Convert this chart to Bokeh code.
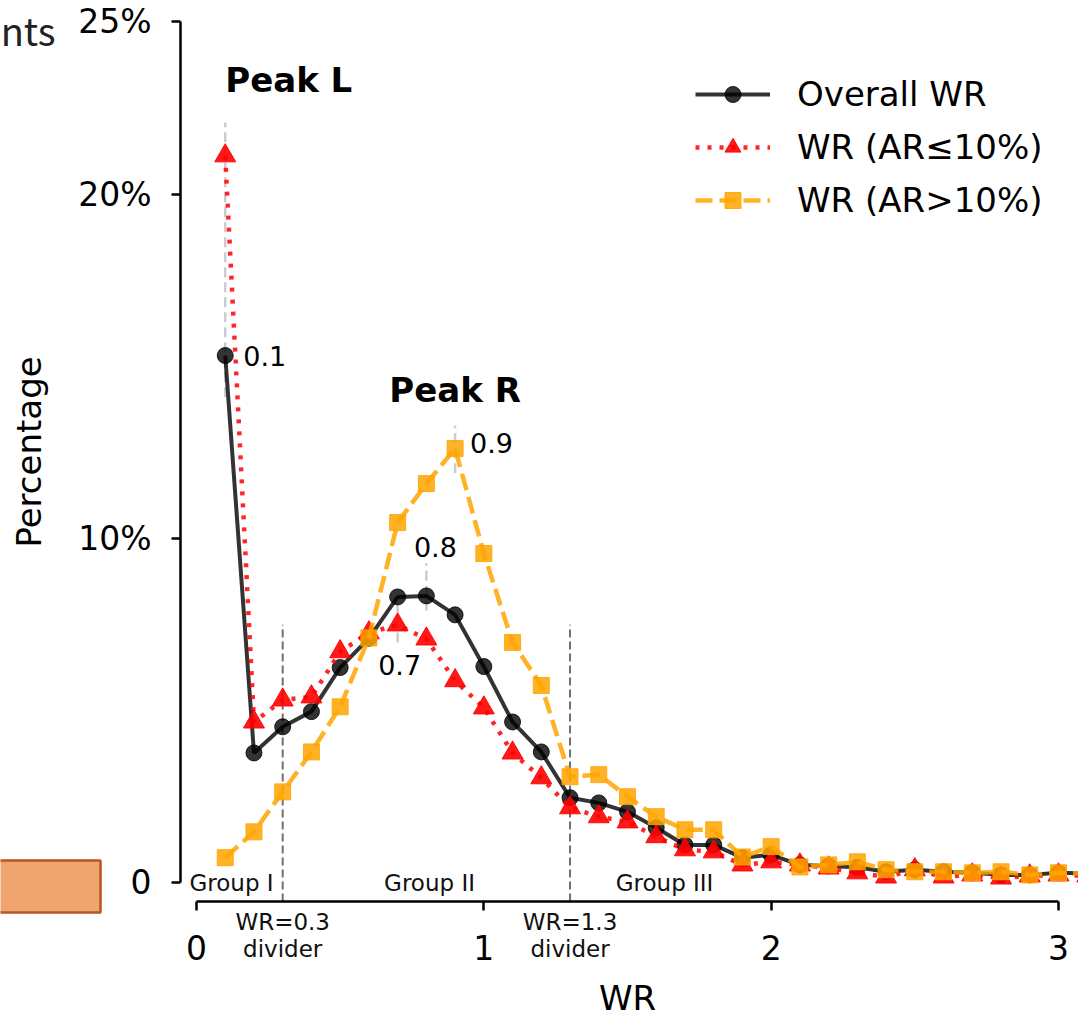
from bokeh.plotting import figure
from bokeh.models import Range1d, FixedTicker, Label, Legend, LegendItem, BoxAnnotation
from bokeh.embed import file_html
from bokeh.resources import INLINE

# ---------------- data ----------------
wr = [0.1, 0.2, 0.3, 0.4, 0.5, 0.6, 0.7, 0.8, 0.9, 1.0,
      1.1, 1.2, 1.3, 1.4, 1.5, 1.6, 1.7, 1.8, 1.9, 2.0,
      2.1, 2.2, 2.3, 2.4, 2.5, 2.6, 2.7, 2.8, 2.9, 3.0, 3.1]
overall = [15.31, 3.77, 4.53, 4.97, 6.25, 7.10, 8.30, 8.33, 7.78, 6.28,
           4.67, 3.80, 2.47, 2.32, 2.06, 1.60, 1.10, 1.10, 0.73, 0.81,
           0.52, 0.49, 0.45, 0.32, 0.38, 0.32, 0.29, 0.23, 0.23, 0.29, 0.27]
low_ar = [21.11, 4.67, 5.31, 5.40, 6.71, 7.26, 7.49, 7.08, 5.87, 5.08,
          3.77, 3.05, 2.18, 1.92, 1.77, 1.34, 0.96, 0.90, 0.52, 0.61,
          0.52, 0.43, 0.29, 0.17, 0.38, 0.17, 0.23, 0.14, 0.20, 0.23, 0.20]
high_ar = [0.73, 1.48, 2.64, 3.80, 5.11, 7.11, 10.46, 11.59, 12.61, 9.56,
           6.98, 5.73, 3.08, 3.14, 2.50, 1.92, 1.54, 1.54, 0.75, 1.05,
           0.46, 0.52, 0.61, 0.38, 0.32, 0.32, 0.29, 0.32, 0.23, 0.29, 0.27]
series_names = ["Overall WR", "WR (AR\u226410%)", "WR (AR>10%)"]
x_ticks = [0, 1, 2, 3]
y_ticks = [0, 10, 20, 25]
y_tick_labels = {0: "0", 10: "10%", 20: "20%", 25: "25%"}
dividers = [0.3, 1.3]
group_names = ["Group I", "Group II", "Group III"]
group_x = [0.122, 0.811, 1.629]
peak_x = [0.1, 0.7, 0.8, 0.9]
peak_y0 = [14.1, 6.98, 7.90, 11.89]
peak_y1 = [22.07, 8.06, 9.28, 13.28]

FONT = "DejaVu Sans"

# px scales: x 287.33 px/unit (0 at px 196), y 34.44 px/unit (0 at px 882.3)
XS = 287.33
YS = 34.44
W, H = 1078, 1018
x_start = -196 / XS
x_end = (W - 196) / XS
y_start = -(H - 882.3) / YS
y_end = 882.3 / YS
x_axis_at = -(901 - 882.3) / YS
y_axis_at = -16 / XS

p = figure(width=W, height=H,
           x_range=Range1d(x_start, x_end), y_range=Range1d(y_start, y_end),
           output_backend="svg", toolbar_location=None, min_border=0)
p.outline_line_color = None
p.grid.visible = False
p.background_fill_color = "white"
p.border_fill_color = "white"

for ax in (p.xaxis[0], p.yaxis[0]):
    ax.axis_line_width = 2.5
    ax.major_tick_line_width = 2.5
    ax.major_tick_in = 0
    ax.major_tick_out = 9
    ax.minor_tick_line_color = None
    ax.major_label_text_font = FONT
    ax.major_label_text_font_size = "33px"
    ax.major_label_text_color = "black"
    ax.axis_label_text_font = FONT
    ax.axis_label_text_font_size = "34px"
    ax.axis_label_text_font_style = "normal"
    ax.axis_label_text_color = "black"

p.xaxis.fixed_location = x_axis_at
p.xaxis.bounds = (0, 3)
p.xaxis.ticker = FixedTicker(ticks=x_ticks)
p.xaxis.axis_label = "WR"
p.xaxis.major_label_standoff = 24
p.xaxis.axis_label_standoff = 15

p.yaxis.fixed_location = y_axis_at
p.yaxis.bounds = (0, 25)
p.yaxis.ticker = FixedTicker(ticks=y_ticks)
p.yaxis.major_label_overrides = y_tick_labels
p.yaxis.axis_label = "Percentage"
p.yaxis.major_label_standoff = 20
p.yaxis.axis_label_standoff = 26

# guide lines
p.segment(x0=dividers, y0=[x_axis_at] * len(dividers), x1=dividers, y1=[7.49] * len(dividers),
          line_color="#707070", line_width=2, line_dash="8 4")
p.segment(x0=peak_x, y0=peak_y0, x1=peak_x, y1=peak_y1,
          line_color="#cccccc", line_width=2.5, line_dash="10 5")

# series
l1 = p.line(wr, overall, line_color="black", line_alpha=0.8, line_width=4)
s1 = p.scatter(wr, overall, marker="circle", size=16, fill_color="black",
               line_color="black", alpha=0.8)
l2 = p.line(wr, low_ar, line_color="#ff0000", line_alpha=0.85, line_width=4.5,
            line_dash="4 8")
s2 = p.scatter(wr, low_ar, marker="triangle", size=21, fill_color="#ff0000",
               line_color="#ff0000", alpha=0.9)
l3 = p.line(wr, high_ar, line_color="#ffa500", line_alpha=0.85, line_width=4.5,
            line_dash="17 7")
s3 = p.scatter(wr, high_ar, marker="square", size=16, fill_color="#ffa500",
               line_color="#ffa500", alpha=0.85)

legend = Legend(items=[LegendItem(label=series_names[0], renderers=[l1, s1]),
                       LegendItem(label=series_names[1], renderers=[l2, s2]),
                       LegendItem(label=series_names[2], renderers=[l3, s3])],
                location=(695, 798), border_line_color=None, background_fill_alpha=0,
                label_text_font=FONT, label_text_font_size="34px",
                label_text_color="black",
                glyph_width=75, glyph_height=40, label_height=40, spacing=13,
                label_standoff=27, padding=10, margin=0)
p.add_layout(legend)


def lab(x, y, text, size, align="left", bold=False, xo=0, yo=0, font=FONT, color="black"):
    p.add_layout(Label(x=x, y=y, text=text, text_font=font, text_font_size=size,
                       text_align=align, text_baseline="middle",
                       text_font_style="bold" if bold else "normal",
                       text_color=color, x_offset=xo, y_offset=yo))


# peak labels
lab(0.1, 23.31, "Peak L", "34px", bold=True)
lab(0.9, 14.31, "Peak R", "34px", align="center", bold=True)
lab(0.1, overall[0], "0.1", "27px", xo=18, yo=0)
lab(0.9, high_ar[8], "0.9", "27px", xo=15, yo=6)
lab(0.8, overall[7], "0.8", "27px", align="center", xo=9, yo=49)
lab(0.7, low_ar[6], "0.7", "27px", align="center", xo=2, yo=-40)

# group labels
for gx, gn in zip(group_x, group_names):
    lab(gx, 0.0, gn, "23px", align="center", color="#111111")

# divider labels below axis
for d in dividers:
    lab(d, -1.141, "WR=%.1f" % d, "23px", align="center", color="#111111")
    lab(d, -1.925, "divider", "23px", align="center", color="#111111")

# fragments of neighbouring panels
lab(-0.4907, 24.78, "nts", "38px", align="right", font="Noto Sans CJK SC", color="#222222")
p.add_layout(BoxAnnotation(left=-1.0, right=-96 / XS, top=22.3 / YS, bottom=-29.7 / YS,
                           fill_color="#f0a56f", fill_alpha=1, line_color="#b4581f",
                           line_alpha=1, line_width=2.5))

open("out.html", "w").write(file_html(p, INLINE))
